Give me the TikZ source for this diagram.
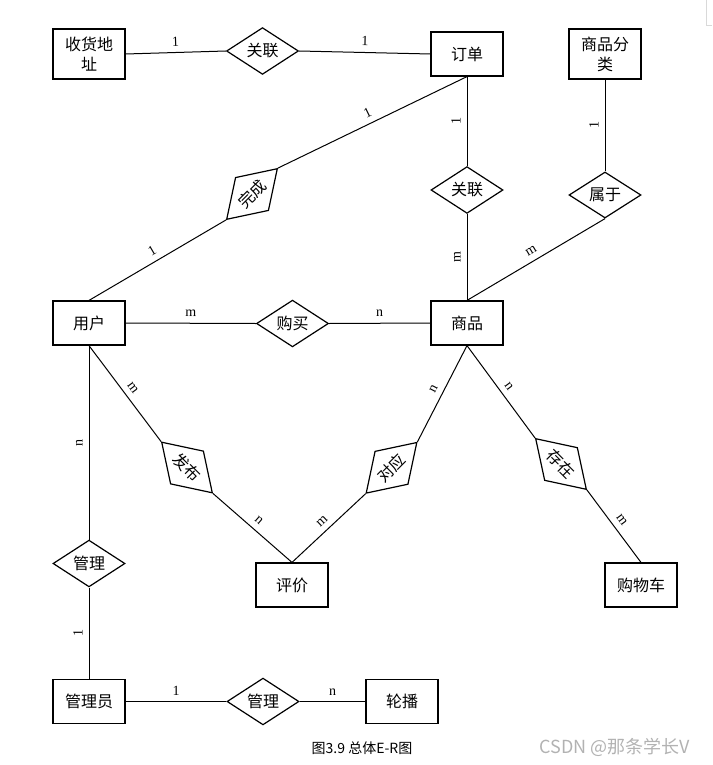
\documentclass[tikz,border=0pt]{standalone}
\usepackage{fontspec}
\setmainfont{Liberation Serif}
\newfontfamily\cjk{Noto Sans CJK SC}
\usetikzlibrary{shapes.geometric}

\begin{document}
\begin{tikzpicture} [x=1pt, y=-1pt, line width=1pt,
	entity/.style={draw, line width=1.2pt, minimum width=72pt, minimum height=44pt, inner sep=0pt, align=center, font=\cjk\fontsize{16}{20}\selectfont},
	relation/.style={draw, diamond, line width=1.2pt, minimum width=72pt, minimum height=43pt, inner sep=0pt, font=\cjk\fontsize{16}{20}\selectfont},
	card/.style={sloped, allow upside down, above=5pt, inner sep=1pt, font=\fontsize{14}{14}\selectfont}]
	\useasboundingbox (0,0) rectangle (712,765);
	\node[entity, minimum height=50pt] (addr) at (89,54) {收货地\\址};
	\node[relation] (rel1) at (262.5,51) {关联};
	\node[entity] (order) at (467,54) {订单};
	\node[entity, minimum height=50pt] (cate) at (605,54) {商品分\\类};
	\node[relation, rotate=45, minimum height=45pt] (finish) at (252,194) {完成};
	\node[relation] (rel2) at (467,190) {关联};
	\node[relation] (belong) at (605,195) {属于};
	\node[entity] (user) at (89,323) {用户};
	\node[relation] (buy) at (292.5,323.5) {购买};
	\node[entity] (goods) at (467,323) {商品};
	\node[relation, rotate=-45, minimum height=45pt] (post) at (187,467.5) {发布};
	\node[relation, rotate=45, minimum height=45pt] (match) at (391.5,467.8) {对应};
	\node[relation, rotate=-45, minimum height=45pt] (exist) at (561,464) {存在};
	\node[relation] (manage1) at (89,563.5) {管理};
	\node[entity] (review) at (292,585) {评价};
	\node[entity] (cart) at (641,585) {购物车};
	\node[entity] (admin) at (89,701.5) {管理员};
	\node[relation] (manage2) at (263,701.5) {管理};
	\node[entity] (banner) at (402,701.5) {轮播};
	\draw (addr.east) -- node[card] {1} (rel1.west);
	\draw (rel1.east) -- node[card] {1} (order.west);
	\draw (user.north) -- node[card] {1} (finish.west);
	\draw (finish.east) -- node[card] {1} (order.south);
	\draw (rel2.north) -- node[card] {1} (order.south);
	\draw (goods.north) -- node[card] {m} (rel2.south);
	\draw (belong.north) -- node[card] {1} (cate.south);
	\draw (goods.north) -- node[card] {m} (belong.south);
	\draw (user.east) -- node[card] {m} (buy.west);
	\draw (buy.east) -- node[card] {n} (goods.west);
	\draw (user.south) -- node[card] {m} (post.west);
	\draw (post.east) -- node[card] {n} (review.north);
	\draw (review.north) -- node[card] {m} (match.west);
	\draw (match.east) -- node[card] {n} (goods.south);
	\draw (goods.south) -- node[card] {n} (exist.west);
	\draw (exist.east) -- node[card] {m} (cart.north);
	\draw (manage1.north) -- node[card] {n} (user.south);
	\draw (admin.north) -- node[card] {1} (manage1.south);
	\draw (admin.east) -- node[card] {1} (manage2.west);
	\draw (manage2.east) -- node[card] {n} (banner.west);
	\node[font=\cjk\fontsize{14}{14}\selectfont] (caption) at (362,748) {图3.9 总体E-R图};
	\node[font=\cjk\fontsize{18}{18}\selectfont, text=gray!60] (mark) at (615,747) {CSDN @那条学长V};
	\draw[gray!30, line width=0.8pt] (706.5,0) -- (706.5,25) -- (712,25);
\end{tikzpicture}
\end{document}
